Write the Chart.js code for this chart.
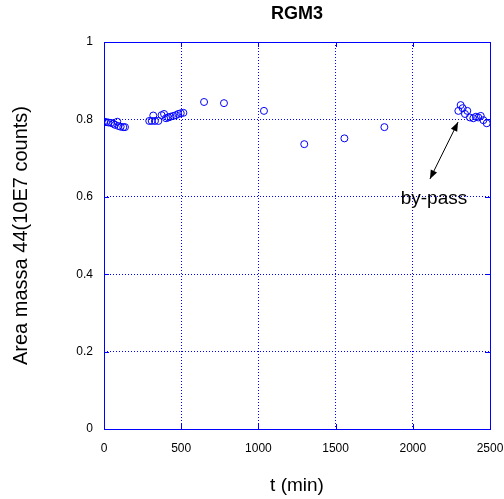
<!DOCTYPE html>
<html>
<head>
<meta charset="utf-8">
<script src="https://cdn.jsdelivr.net/npm/chart.js@4/dist/chart.umd.min.js"></script>
<style>
  html, body { margin: 0; padding: 0; background: #fff; }
  canvas { display: block; }
</style>
</head>
<body>
<canvas id="rgmChart" width="504" height="499" style="width:504px;height:499px"></canvas>
<script>
// time (min) of each sample
const times = [
  0, 13, 28, 45, 60, 71, 86, 93, 108, 125, 136,
  293, 309, 319, 330, 352, 373, 389, 402, 417, 431, 449, 466, 481, 497, 514,
  648, 777, 1036, 1297, 1557, 1816,
  2295, 2310, 2323, 2338, 2353, 2370, 2392, 2409, 2424, 2440, 2457, 2479
];
// area massa 44 (10E7 counts)
const areas = [
  0.794, 0.793, 0.792, 0.791, 0.789, 0.786, 0.794, 0.783, 0.781, 0.780, 0.780,
  0.796, 0.796, 0.810, 0.796, 0.796, 0.811, 0.814, 0.803, 0.805, 0.807, 0.809, 0.811, 0.814, 0.816, 0.817,
  0.845, 0.842, 0.822, 0.736, 0.751, 0.780,
  0.822, 0.837, 0.829, 0.814, 0.822, 0.805, 0.803, 0.807, 0.805, 0.809, 0.798, 0.790
];

const xTicks = [0, 500, 1000, 1500, 2000, 2500];
const xTickLabels = ['0', '500', '1000', '1500', '2000', '2500'];
const yTicks = [0, 0.2, 0.4, 0.6, 0.8, 1];
const yTickLabels = ['0', '0.2', '0.4', '0.6', '0.8', '1'];

// by-pass note: arrow ends and label spot, in data units
const arrowFrom = { x: 2293, y: 0.793 };
const arrowTo = { x: 2111, y: 0.646 };
const noteText = 'by-pass';
const notePos = { x: 2137, y: 0.594 };

const blue = '#0000ff';

Chart.defaults.font.family = '"Liberation Sans", Arial, sans-serif';
Chart.defaults.color = '#000';

function arrowHead(ctx, x1, y1, x2, y2) {
  // filled head at (x2, y2)
  const a = Math.atan2(y2 - y1, x2 - x1);
  const len = 9, w = 3.5;
  ctx.beginPath();
  ctx.moveTo(x2, y2);
  ctx.lineTo(x2 - len * Math.cos(a) + w * Math.sin(a), y2 - len * Math.sin(a) - w * Math.cos(a));
  ctx.lineTo(x2 - len * Math.cos(a) - w * Math.sin(a), y2 - len * Math.sin(a) + w * Math.cos(a));
  ctx.closePath();
  ctx.fill();
}

const framePlugin = {
  id: 'frame',
  afterDatasetsDraw(chart) {
    const ctx = chart.ctx;
    const a = chart.chartArea;
    const xs = chart.scales.x, ys = chart.scales.y;
    ctx.save();
    ctx.strokeStyle = blue;
    ctx.lineWidth = 1;
    ctx.strokeRect(Math.round(a.left) + 0.5, Math.round(a.top) + 0.5,
      Math.round(a.right - a.left), Math.round(a.bottom - a.top));
    // inward tick marks on all four sides
    ctx.beginPath();
    xTicks.forEach(v => {
      const px = Math.round(xs.getPixelForValue(v)) + 0.5;
      ctx.moveTo(px, a.bottom); ctx.lineTo(px, a.bottom - 5);
      ctx.moveTo(px, a.top); ctx.lineTo(px, a.top + 5);
    });
    yTicks.forEach(v => {
      const py = Math.round(ys.getPixelForValue(v)) + 0.5;
      ctx.moveTo(a.left, py); ctx.lineTo(a.left + 5, py);
      ctx.moveTo(a.right, py); ctx.lineTo(a.right - 5, py);
    });
    ctx.stroke();

    // by-pass arrow + text
    const x1 = xs.getPixelForValue(arrowFrom.x), y1 = ys.getPixelForValue(arrowFrom.y);
    const x2 = xs.getPixelForValue(arrowTo.x), y2 = ys.getPixelForValue(arrowTo.y);
    ctx.strokeStyle = '#000';
    ctx.fillStyle = '#000';
    ctx.beginPath();
    ctx.moveTo(x1, y1);
    ctx.lineTo(x2, y2);
    ctx.stroke();
    arrowHead(ctx, x1, y1, x2, y2);
    arrowHead(ctx, x2, y2, x1, y1);
    ctx.font = '19px "Liberation Sans", Arial, sans-serif';
    ctx.textAlign = 'center';
    ctx.textBaseline = 'middle';
    ctx.fillText(noteText, xs.getPixelForValue(notePos.x), ys.getPixelForValue(notePos.y));
    ctx.restore();
  }
};

const ctx = document.getElementById('rgmChart').getContext('2d');
const chart = new Chart(ctx, {
  type: 'scatter',
  data: {
    datasets: [{
      data: times.map((t, i) => ({ x: t, y: areas[i] })),
      borderColor: blue,
      backgroundColor: 'transparent',
      borderWidth: 1,
      pointRadius: 3.5,
      pointHoverRadius: 3.5
    }]
  },
  options: {
    responsive: false,
    animation: false,
    layout: { padding: { left: 0, right: 14, top: 0, bottom: 0 } },
    plugins: {
      legend: { display: false },
      tooltip: { enabled: false },
      title: {
        display: true,
        text: 'RGM3',
        fullSize: false,
        font: { size: 18, weight: 'bold' },
        padding: { top: 3, bottom: 17.4 }
      }
    },
    scales: {
      x: {
        type: 'linear',
        min: 0,
        max: 2500,
        afterBuildTicks: s => { s.ticks = xTicks.map(v => ({ value: v })); },
        ticks: {
          callback: (v, i) => xTickLabels[i],
          font: { size: 12 },
          padding: 12,
          maxRotation: 0
        },
        grid: { color: blue, drawTicks: false, lineWidth: 1 },
        border: { display: false, dash: [1, 2] },
        title: { display: true, text: 't (min)', font: { size: 19 }, padding: { top: 0, bottom: 1.6 } },
        afterFit: s => { s.height = 70; s.paddingLeft = 0; s.paddingRight = 0; }
      },
      y: {
        min: 0,
        max: 1,
        afterBuildTicks: s => { s.ticks = yTicks.map(v => ({ value: v })); },
        ticks: {
          callback: (v, i) => yTickLabels[i],
          font: { size: 12 },
          padding: 11
        },
        grid: { color: blue, drawTicks: false, lineWidth: 1 },
        border: { display: false, dash: [1, 2] },
        title: { display: true, text: 'Area massa 44(10E7 counts)', font: { size: 20 }, padding: { top: 9, bottom: 0 } },
        afterFit: s => { s.width = 104; s.paddingTop = 0; s.paddingBottom = 0; }
      }
    }
  },
  plugins: [framePlugin]
});
</script>
</body>
</html>
